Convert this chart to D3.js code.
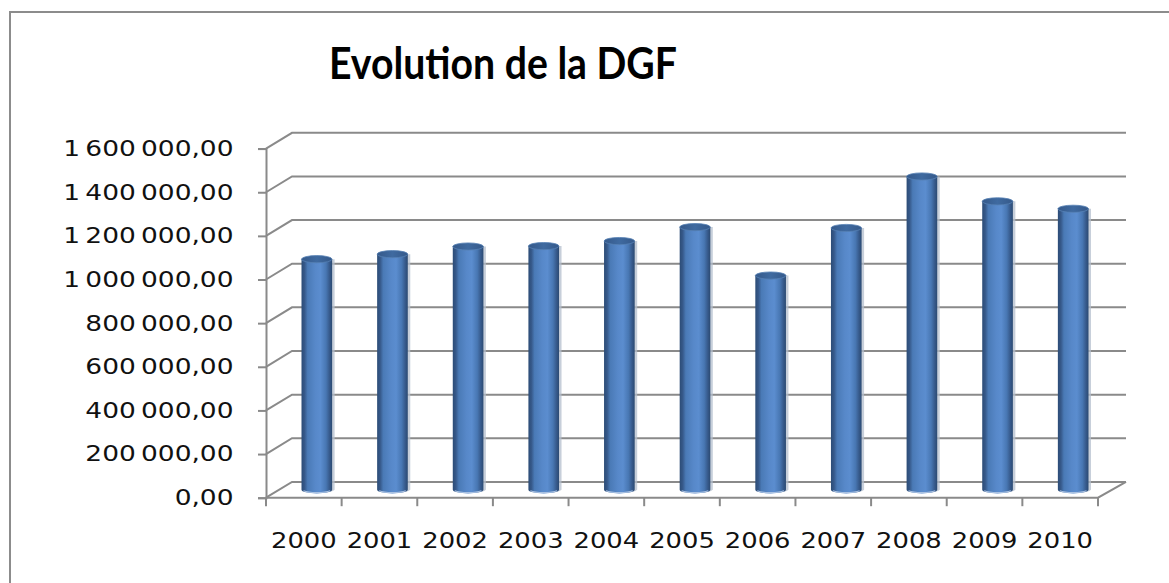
<!DOCTYPE html>
<html>
<head>
<meta charset="utf-8">
<script src="https://cdn.jsdelivr.net/npm/d3@7"></script>
<style>
  html, body { margin: 0; padding: 0; background: #fff; }
  svg { display: block; }
</style>
</head>
<body>
<svg id="chart" width="1169" height="583"></svg>
<script>
// ---- data ----
const title = "Evolution de la DGF";
const years = ["2000","2001","2002","2003","2004","2005","2006","2007","2008","2009","2010"];
const dgf = [1057000, 1080000, 1115000, 1117000, 1140000, 1204000, 982000, 1200000, 1436000, 1322000, 1288000];
const yTicks = [0, 200000, 400000, 600000, 800000, 1000000, 1200000, 1400000, 1600000];

// ---- layout ----
const W = 1169, H = 583;
const frontLeft = 266, frontRight = 1098;
const yBottom = 497.7, yTop = 148.6;
const depthX = 26, depthY = -15.8;
const gridColor = "#8a8a8a";
const yLabelScaleX = 1.23;
const xLabelScaleX = 1.2;

const svg = d3.select("#chart");
svg.append("rect").attr("width", W).attr("height", H).attr("fill", "#fff");

// outer frame (partially visible)
svg.append("path")
  .attr("d", `M10,${H} L10,12 L${W},12`)
  .attr("fill", "none").attr("stroke", "#8c8c8c").attr("stroke-width", 2);

const x = d3.scaleBand().domain(years).range([frontLeft, frontRight]).paddingInner(0).paddingOuter(0);
const y = d3.scaleLinear().domain([0, 1600000]).range([yBottom, yTop]);

const locale = d3.formatLocale({decimal: ",", thousands: "\u2009", grouping: [3], currency: ["", ""]});
const fmt = locale.format(",.2f");

// title
svg.append("text")
  .attr("x", 503).attr("y", 79)
  .attr("text-anchor", "middle")
  .attr("font-family", "Lato, 'Open Sans', sans-serif")
  .attr("font-weight", "bold")
  .attr("font-size", 43.5)
  .attr("textLength", 348)
  .attr("lengthAdjust", "spacingAndGlyphs")
  .attr("fill", "#000")
  .text(title);

// gridlines on side wall + back wall
const grid = svg.append("g");
grid.selectAll("path").data(yTicks).join("path")
  .attr("d", v => {
    const yy = y(v);
    return `M${frontLeft},${yy} L${frontLeft + depthX},${yy + depthY} L${frontRight + depthX + 2},${yy + depthY}`;
  })
  .attr("fill", "none")
  .attr("stroke", gridColor)
  .attr("stroke-width", 2);

// floor front edge + right diagonal
svg.append("path")
  .attr("d", `M${frontLeft},${yBottom} L${frontRight},${yBottom} L${frontRight + depthX + 2},${yBottom + depthY}`)
  .attr("fill", "none").attr("stroke", gridColor).attr("stroke-width", 2);

// y axis
const yAxis = d3.axisLeft(y).tickValues(yTicks).tickFormat(fmt).tickSize(8).tickPadding(25);
const gy = svg.append("g").attr("transform", `translate(${frontLeft},0)`).call(yAxis);
gy.select(".domain").attr("stroke", gridColor).attr("stroke-width", 2);
gy.selectAll(".tick line").attr("stroke", gridColor).attr("stroke-width", 2);
gy.selectAll(".tick text")
  .attr("x", null)
  .attr("transform", `translate(-32.5,0) scale(${yLabelScaleX},1)`)
  .attr("font-family", "'DejaVu Sans', Verdana, sans-serif")
  .attr("font-size", 21.5)
  .attr("fill", "#111");

// x axis labels
const xAxis = d3.axisBottom(x).tickSize(0).tickPadding(0);
const gx = svg.append("g").attr("transform", `translate(0,${yBottom})`).call(xAxis);
gx.select(".domain").remove();
gx.selectAll(".tick text")
  .attr("y", null).attr("dy", null)
  .attr("transform", `translate(0,50.5) scale(${xLabelScaleX},1)`)
  .attr("font-family", "'DejaVu Sans', Verdana, sans-serif")
  .attr("font-size", 21.5)
  .attr("fill", "#111");

// category boundary ticks
const bounds = years.map(d => x(d)).concat([frontRight]);
svg.append("g").selectAll("line").data(bounds).join("line")
  .attr("x1", d => d).attr("x2", d => d)
  .attr("y1", yBottom).attr("y2", yBottom + 8.5)
  .attr("stroke", gridColor).attr("stroke-width", 2);

// cylinder gradient
const defs = svg.append("defs");
const grad = defs.append("linearGradient").attr("id", "cyl").attr("x1", 0).attr("x2", 1).attr("y1", 0).attr("y2", 0);
[[0, "#2c4c76"], [0.1, "#36598a"], [0.2, "#4a7ab6"], [0.45, "#5788c9"], [0.62, "#5b8dcf"], [0.8, "#4877b3"], [0.92, "#36598a"], [1, "#2b4a72"]]
  .forEach(([o, c]) => grad.append("stop").attr("offset", o).attr("stop-color", c));
const gradTop = defs.append("linearGradient").attr("id", "cyltop").attr("x1", 0).attr("x2", 1).attr("y1", 0).attr("y2", 0);
[[0, "#35598a"], [0.5, "#3f6aa0"], [1, "#35598a"]]
  .forEach(([o, c]) => gradTop.append("stop").attr("offset", o).attr("stop-color", c));

const bw = x.bandwidth() * 0.405;
const rx = bw / 2, ry = 3.6;
const cx = d => x(d) + x.bandwidth() / 2 + depthX / 2;
const baseY = y(0) + depthY / 2;
const topY = v => y(v) + depthY / 2;

const bars = svg.append("g").selectAll("g").data(years.map((d, i) => ({year: d, value: dgf[i]}))).join("g");

// soft shadow to the right
bars.append("path")
  .attr("d", d => {
    const c = cx(d.year), t = topY(d.value);
    return `M${c - rx + 3},${t} L${c + rx + 2.5},${t} L${c + rx + 2.5},${baseY} A${rx} ${ry} 0 0 1 ${c - rx + 3},${baseY} Z`;
  })
  .attr("fill", "#b4bfcd").attr("opacity", 0.75);

bars.append("path")
  .attr("d", d => {
    const c = cx(d.year), t = topY(d.value);
    return `M${c - rx},${t} L${c - rx},${baseY} A${rx} ${ry} 0 0 0 ${c + rx},${baseY} L${c + rx},${t} Z`;
  })
  .attr("fill", "url(#cyl)");

// light rim at the bottom of each cylinder
bars.append("path")
  .attr("d", d => {
    const c = cx(d.year);
    return `M${c - rx + 2},${baseY + 1} A${rx} ${ry} 0 0 0 ${c + rx - 2},${baseY + 1}`;
  })
  .attr("fill", "none").attr("stroke", "#a9c1e2").attr("stroke-width", 1.2);

bars.append("ellipse")
  .attr("cx", d => cx(d.year))
  .attr("cy", d => topY(d.value))
  .attr("rx", rx).attr("ry", ry)
  .attr("fill", "url(#cyltop)")
  .attr("stroke", "#5680b4").attr("stroke-width", 0.8);
</script>
</body>
</html>
